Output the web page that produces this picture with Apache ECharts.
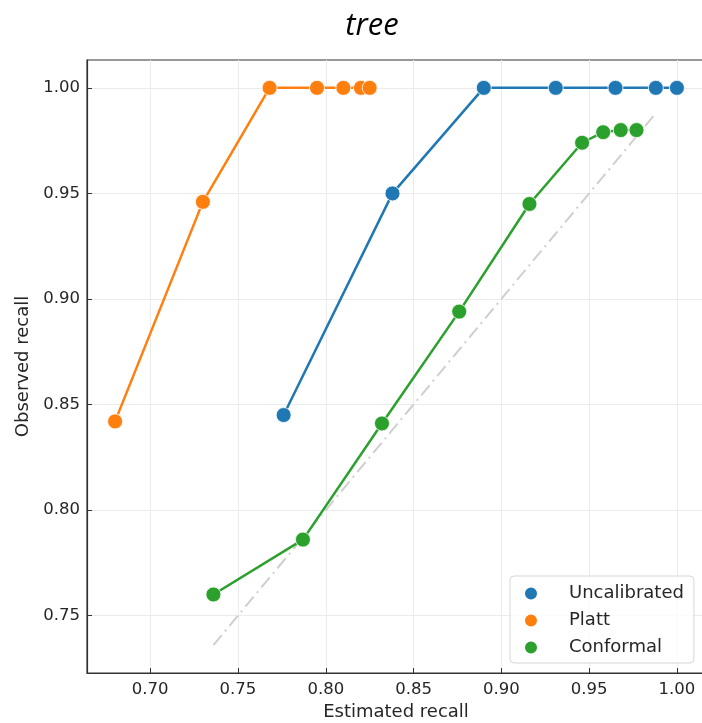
<!DOCTYPE html>
<html>
<head>
<meta charset="utf-8">
<script src="https://cdn.jsdelivr.net/npm/echarts@6/dist/echarts.min.js"></script>
<style>html,body{margin:0;padding:0;background:#fff}#c{width:702px;height:723px}</style>
</head>
<body>
<div id="c"></div>
<script>
var titleText = 'tree';
var seriesNames = ['Uncalibrated', 'Platt', 'Conformal'];
var uncalX = [0.776, 0.838, 0.890, 0.931, 0.965, 0.988, 1.000];
var uncalY = [0.845, 0.950, 1.000, 1.000, 1.000, 1.000, 1.000];
var plattX = [0.680, 0.730, 0.768, 0.795, 0.810, 0.820, 0.825];
var plattY = [0.842, 0.946, 1.000, 1.000, 1.000, 1.000, 1.000];
var confX = [0.736, 0.787, 0.832, 0.876, 0.916, 0.946, 0.958, 0.968, 0.977];
var confY = [0.760, 0.786, 0.841, 0.894, 0.945, 0.974, 0.979, 0.980, 0.980];
var diagX = [0.736, 0.988];
var xTicks = [0.70, 0.75, 0.80, 0.85, 0.90, 0.95, 1.00];
var yTicks = [0.75, 0.80, 0.85, 0.90, 0.95, 1.00];
var xRange = [0.664, 1.016];
var yRange = [0.7228, 1.0132];
var colors = ['#1f77b4', '#ff7f0e', '#2ca02c'];

function pairs(xs, ys) { return xs.map(function (x, i) { return [x, ys[i]]; }); }

var chart = echarts.init(document.getElementById('c'), null, {renderer: 'canvas'});
var tickFont = {fontFamily: 'DejaVu Sans', fontSize: 16.5, color: '#262626'};

function mkSeries(name, xs, ys, color, z) {
  return {
    name: name, type: 'line', data: pairs(xs, ys), z: z,
    symbol: 'circle', symbolSize: 15, showSymbol: true,
    itemStyle: {color: color, borderColor: '#ffffff', borderWidth: 0.8},
    lineStyle: {color: color, width: 2.5},
    emphasis: {disabled: true}, animation: false
  };
}

var option = {
  animation: false,
  graphic: [{
    type: 'text', x: 372, y: 26,
    style: {text: titleText, font: 'italic 31px "Open Sans"', fill: '#000', align: 'center', verticalAlign: 'middle'}
  }],
  grid: {left: 87, top: 60, width: 618, height: 613, containLabel: false, outerBoundsMode: 'none',
         show: true, borderColor: '#333', borderWidth: 1.2, backgroundColor: 'transparent'},
  xAxis: {
    type: 'value', min: xRange[0], max: xRange[1],
    name: 'Estimated recall', nameLocation: 'middle', nameGap: 29,
    nameTextStyle: {fontFamily: 'DejaVu Sans', fontSize: 18, color: '#262626'},
    axisLine: {show: true, onZero: false, lineStyle: {color: '#333', width: 1.2}},
    axisTick: {show: true, inside: true, length: 5, customValues: xTicks, lineStyle: {color: '#333', width: 1}},
    axisLabel: Object.assign({customValues: xTicks, margin: 8, formatter: function (v) { return v.toFixed(2); }}, tickFont),
    splitLine: {show: true, lineStyle: {color: '#ebebeb', width: 1}}
  },
  yAxis: {
    type: 'value', min: yRange[0], max: yRange[1],
    name: 'Observed recall', nameLocation: 'middle', nameGap: 54,
    nameTextStyle: {fontFamily: 'DejaVu Sans', fontSize: 18, color: '#262626'},
    axisLine: {show: true, onZero: false, lineStyle: {color: '#333', width: 1.2}},
    axisTick: {show: true, inside: true, length: 5, customValues: yTicks, lineStyle: {color: '#333', width: 1}},
    axisLabel: Object.assign({customValues: yTicks, margin: 7, formatter: function (v) { return v.toFixed(2); }}, tickFont),
    splitLine: {show: true, lineStyle: {color: '#ebebeb', width: 1}}
  },
  legend: {
    data: seriesNames.map(function (n) { return {name: n, icon: 'circle'}; }),
    orient: 'vertical', left: 510, top: 576,
    itemWidth: 26, itemHeight: 14, itemGap: 8,
    padding: [8, 10, 6, 13],
    backgroundColor: 'rgba(255,255,255,0.8)', borderColor: '#d6d6d6', borderWidth: 1, borderRadius: 4,
    textStyle: {fontFamily: 'DejaVu Sans', fontSize: 18, color: '#262626', lineHeight: 19, padding: [0, 0, 0, 20]},
    selectedMode: false
  },
  series: [
    {
      name: 'diag', type: 'line', data: pairs(diagX, diagX), z: 1, symbol: 'none',
      lineStyle: {color: '#cfcfcf', width: 2, type: [13, 5, 2, 5]}, emphasis: {disabled: true}
    },
    mkSeries(seriesNames[0], uncalX, uncalY, colors[0], 2),
    mkSeries(seriesNames[1], plattX, plattY, colors[1], 3),
    mkSeries(seriesNames[2], confX, confY, colors[2], 4)
  ]
};
chart.setOption(option);
</script>
</body>
</html>
